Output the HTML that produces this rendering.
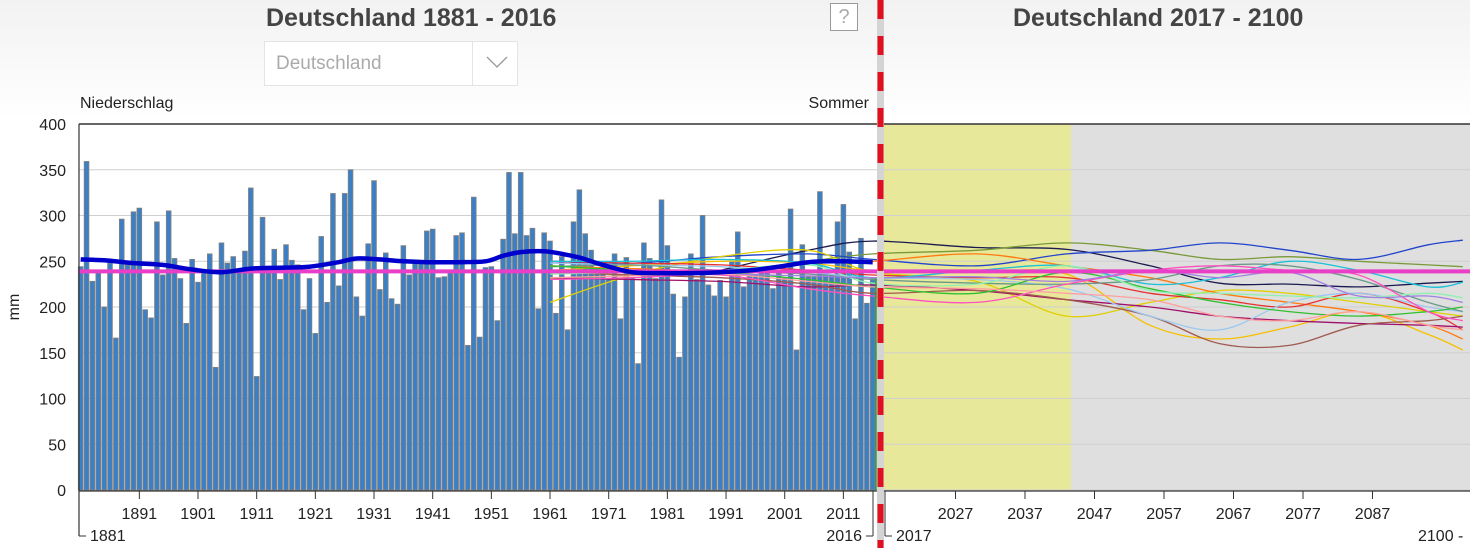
<!DOCTYPE html>
<html><head><meta charset="utf-8">
<style>
body{margin:0;width:1470px;height:548px;overflow:hidden;background:#fff;font-family:"Liberation Sans",sans-serif;}
#hdr{position:absolute;left:0;top:0;width:1470px;height:120px;background:linear-gradient(#f2f2f2,#fff);}
.title{position:absolute;top:4px;font-weight:bold;font-size:25px;color:#444;}
</style></head><body>
<div id="hdr"></div>
<div class="title" style="left:266px">Deutschland 1881 - 2016</div>
<div class="title" style="left:1013px">Deutschland 2017 - 2100</div>
<div style="position:absolute;left:264px;top:41px;width:252px;height:43px;border:1px solid #e4e4e4;background:#fff;">
 <span style="position:absolute;left:11px;top:11px;font-size:19px;color:#aaa">Deutschland</span>
 <div style="position:absolute;left:207px;top:0;width:1px;height:43px;background:#e4e4e4"></div>
 <svg style="position:absolute;left:220px;top:12px" width="24" height="16"><polyline points="2,3 12,13 22,3" fill="none" stroke="#999" stroke-width="1.3"/></svg>
</div>
<div style="position:absolute;left:830px;top:3px;width:26px;height:26px;border:1px solid #999;color:#aaa;font-size:20px;text-align:center;line-height:26px;background:#fff">?</div>
<svg id="chart" width="1470" height="548" style="position:absolute;left:0;top:0"></svg>
<script>
const barYears=[];for(let y=1881;y<=2016;y++)barYears.push(y);
const barValues=[244,359,228,237,200,248,166,296,246,304,308,197,188,293,235,305,253,231,182,252,227,240,258,134,270,248,255,240,261,330,124,298,240,263,230,268,251,246,197,231,171,277,205,324,223,324,350,211,190,269,338,219,259,209,203,267,235,248,250,283,285,232,233,237,278,281,158,320,167,243,244,185,274,347,280,347,278,286,198,281,272,193,255,175,293,328,280,262,242,240,231,258,187,254,232,138,270,253,231,317,267,214,145,211,258,230,300,224,212,229,211,250,282,222,235,235,237,240,220,240,232,307,153,268,233,233,326,240,235,293,312,260,187,275,204,231];
const meanYears=[1881,1885,1890,1895,1900,1905,1910,1915,1920,1925,1928,1932,1936,1940,1945,1950,1953,1956,1960,1963,1966,1970,1975,1980,1985,1990,1995,2000,2005,2010,2016];
const meanValues=[252,251,248,246,241,238,242,243,244,249,253,252,250,249,249,250,256,260,261,258,254,246,238,237,237,238,240,244,249,250,249];
const refValue=239;
const projYears=[1961,1975,1990,2005,2016,2030,2043,2055,2065,2075,2085,2095,2100];
const sNavy=[null,null,240,262,272,265,263,245,226,225,222,226,228];
const sOlive=[230,235,238,250,258,262,270,262,252,255,250,246,244];
const sBlue=[250,248,255,258,252,245,258,262,270,262,252,268,273];
const sYellow=[205,235,255,262,238,228,190,205,218,215,205,195,190];
const sGold=[240,245,250,248,240,238,236,180,165,178,195,170,153];
const sOrange=[245,242,240,248,250,258,245,232,215,205,195,180,165];
const sRed=[250,248,246,240,235,232,232,215,208,200,215,195,175];
const sMaroon=[232,230,228,222,224,218,208,200,190,185,182,180,178];
const sBrown=[238,235,232,225,215,218,208,190,160,158,180,185,190];
const sLightBlue=[248,246,244,238,232,230,220,190,175,205,215,200,195];
const sCyan=[250,250,252,248,232,240,245,225,232,250,240,222,227];
const sTeal=[244,246,240,236,230,226,225,230,245,245,230,205,195];
const sGreen=[245,240,238,230,222,215,238,220,205,195,190,195,200];
const sLightGreen=[236,238,240,246,226,225,245,218,215,212,210,215,210];
const sPink=[230,232,235,220,212,205,225,240,245,240,235,195,185];
const sLavender=[240,238,236,234,232,233,228,240,232,238,212,212,205];
const sSalmon=[232,234,236,228,222,220,215,208,190,185,195,180,175];
const series=[[sNavy,'#1a1a50'],[sOlive,'#7a9a3a'],[sBlue,'#2244cc'],[sYellow,'#e0d000'],[sGold,'#f5c000'],[sOrange,'#ff7a10'],[sRed,'#e83030'],[sMaroon,'#a0106a'],[sBrown,'#a05a50'],[sLightBlue,'#9cc8f0'],[sCyan,'#1cc0d8'],[sTeal,'#6a9a8a'],[sGreen,'#30c030'],[sLightGreen,'#90f0b0'],[sPink,'#ff50c0'],[sLavender,'#a080e0'],[sSalmon,'#ffa0a0']];
const yTicks=[0,50,100,150,200,250,300,350,400];
const leftTicks=[1891,1901,1911,1921,1931,1941,1951,1961,1971,1981,1991,2001,2011];
const rightTicks=[2027,2037,2047,2057,2067,2077,2087];

const NS='http://www.w3.org/2000/svg';
const svg=document.getElementById('chart');
function el(t,a,p){const e=document.createElementNS(NS,t);for(const k in a)e.setAttribute(k,a[k]);(p||svg).appendChild(e);return e;}
const yS=v=>490-v*0.915;
const xS=yr=>yr<=2016.5?80.67+5.867*(yr-1881):886+(yr-2017)*6.95;
function smooth(pts){
 if(pts.length<2)return '';
 let d='M'+pts[0][0].toFixed(1)+','+pts[0][1].toFixed(1);
 for(let i=0;i<pts.length-1;i++){
  const p0=pts[i-1]||pts[i],p1=pts[i],p2=pts[i+1],p3=pts[i+2]||p2;
  const c1=[p1[0]+(p2[0]-p0[0])/6,p1[1]+(p2[1]-p0[1])/6];
  const c2=[p2[0]-(p3[0]-p1[0])/6,p2[1]-(p3[1]-p1[1])/6];
  d+='C'+c1[0].toFixed(1)+','+c1[1].toFixed(1)+' '+c2[0].toFixed(1)+','+c2[1].toFixed(1)+' '+p2[0].toFixed(1)+','+p2[1].toFixed(1);
 }
 return d;
}

let e;
e=el('rect',{x:884,y:124,width:187,height:366,fill:'#e8e89a'});


e=el('rect',{x:1071,y:124,width:399,height:366,fill:'#dfdfdf'});


yTicks.forEach(v=>{
 e=el('line',{x1:79,x2:1470,y1:yS(v),y2:yS(v),stroke:v==400?'#333':'#cfcfcf','stroke-width':v==400?1.5:1});
 
 
 e=el('text',{x:66,y:yS(v)+6,'text-anchor':'end','font-size':16,fill:'#222'});e.textContent=v;
 
 
});
barYears.forEach((yr,i)=>{
 const v=barValues[i];
 e=el('rect',{x:xS(yr)-2.3,y:yS(v),width:4.6,height:v*0.915,fill:'#3a80c8',stroke:'#808080','stroke-width':0.9});
 
 
});
series.forEach(([vals,col],k)=>{
 const pts=[];projYears.forEach((yr,i)=>{if(vals[i]!=null)pts.push([xS(yr),yS(vals[i])]);});
 e=el('path',{d:smooth(pts),fill:'none',stroke:col,'stroke-width':1.3,'stroke-linejoin':'round'});
 
 
});
e=el('line',{x1:79,x2:1470,y1:yS(refValue),y2:yS(refValue),stroke:'#e83ec8','stroke-width':4});


const mpts=meanYears.map((yr,i)=>[xS(yr),yS(meanValues[i])]);
e=el('path',{d:smooth(mpts),fill:'none',stroke:'#0000cc','stroke-width':4.5,'stroke-linejoin':'round'});


e=el('line',{x1:876,x2:876,y1:yS(231),y2:490,stroke:'#2a9a2a','stroke-width':1.5});


el('line',{x1:79,x2:79,y1:124,y2:536,stroke:'#333','stroke-width':1.2});
el('line',{x1:79,x2:1470,y1:491,y2:491,stroke:'#333','stroke-width':1.2});
el('line',{x1:79,x2:86,y1:536,y2:536,stroke:'#333'});
el('line',{x1:873,x2:873,y1:491,y2:536,stroke:'#333'});el('line',{x1:866,x2:873,y1:536,y2:536,stroke:'#333'});
el('line',{x1:885,x2:885,y1:491,y2:536,stroke:'#333'});el('line',{x1:885,x2:892,y1:536,y2:536,stroke:'#333'});
leftTicks.concat(rightTicks).forEach(yr=>{
 el('line',{x1:xS(yr),x2:xS(yr),y1:491,y2:499,stroke:'#333'});
 e=el('text',{x:xS(yr),y:519,'text-anchor':'middle','font-size':16,fill:'#222'});e.textContent=yr;
 
 
});
[[90,'1881','start'],[862,'2016','end'],[896,'2017','start'],[1418,'2100 -','start']].forEach(([x,t,a])=>{
 e=el('text',{x:x,y:541,'text-anchor':a,'font-size':16,fill:'#222'});e.textContent=t;
 
 
});
el('rect',{x:877,y:0,width:7,height:548,fill:'#d4d4d4'});
e=el('line',{x1:880.5,x2:880.5,y1:0,y2:548,stroke:'#e01020','stroke-width':6,'stroke-dasharray':'19,17'});


e=el('text',{x:80,y:108,'font-size':16,fill:'#222'});e.textContent='Niederschlag';


e=el('text',{x:869,y:108,'text-anchor':'end','font-size':16,fill:'#222'});e.textContent='Sommer';


e=el('text',{x:0,y:0,'font-size':16,fill:'#222','text-anchor':'middle',transform:'translate(19,307) rotate(-90)'});e.textContent='mm';


</script>
</body></html>
